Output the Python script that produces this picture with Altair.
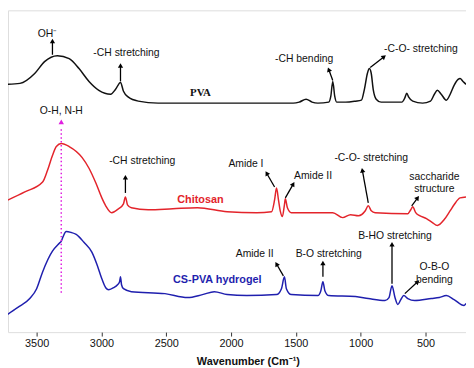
import math
import altair as alt
import pandas as pd

# ---- spectra (wavenumber, offset intensity) ----
pva_wn = [3736, 3629, 3515, 3439, 3340, 3249, 3173, 3096, 3020, 2929, 2891, 2853, 2830, 2792, 2716, 2563,
          2030, 1520, 1474, 1421, 1375, 1330, 1246, 1230, 1215, 1200, 1185, 1116, 1040, 994, 971, 948, 933,
          918, 903, 880, 842, 735, 682, 660, 644, 629, 598, 522, 461, 431, 408, 378, 339, 309, 279, 248, 233, 210, 187]
pva_v = [251, 252, 262, 274, 280, 277, 267, 254, 245, 241, 246, 253, 244, 238, 234, 232,
         232, 232, 233, 236, 233, 232, 233, 239, 254, 239, 233, 233, 234, 235, 246, 262, 267,
         262, 246, 236, 233, 233, 233, 237, 242, 238, 234, 232, 234, 241, 245, 241, 235, 241, 250, 256, 257, 254, 251]

chi_wn = [3736, 3591, 3454, 3416, 3378, 3348, 3310, 3249, 3150, 3096, 3043, 2997, 2967, 2921, 2868, 2830, 2815,
          2799, 2769, 2639, 2449, 2259, 2030, 1802, 1687, 1664, 1649, 1634, 1619, 1604, 1588, 1581, 1565, 1535,
          1215, 1139, 1078, 1017, 964, 941, 918, 888, 636, 613, 598, 575, 545, 492, 446, 408, 355, 309, 279, 233, 187]
chi_v = [133, 142, 152, 164, 179, 188, 191, 188, 177, 166, 151, 136, 128, 121, 125, 130, 137,
         129, 126, 124, 125, 126, 122, 121, 122, 134, 146, 134, 122, 117, 129, 135, 126, 121,
         121, 116, 119, 118, 123, 128, 123, 121, 120, 124, 127, 121, 118, 115, 111, 108, 114, 123, 129, 136, 137]

gel_wn = [3736, 3645, 3553, 3500, 3454, 3378, 3325, 3310, 3295, 3272, 3234, 3195, 3135, 3074, 3036, 2997, 2967,
          2944, 2906, 2876, 2860, 2853, 2845, 2830, 2769, 2510, 2335, 2221, 2129, 2030, 1878, 1649, 1611, 1588,
          1573, 1535, 1330, 1307, 1291, 1276, 1246, 1040, 941, 812, 781, 758, 735, 713, 690, 667, 636, 583, 454,
          393, 339, 279, 202, 187]
gel_v = [17, 25, 34, 44, 61, 82, 90, 92, 97, 102, 101, 99, 91, 81, 69, 54, 45,
         43, 45, 48, 51, 56, 48, 44, 41, 39, 35, 38, 41, 38, 37, 38, 44, 56,
         44, 38, 37, 42, 51, 42, 37, 36, 34, 32, 35, 47, 35, 28, 33, 37, 34, 32, 34,
         35, 37, 33, 27, 29]

series_names = ["PVA", "Chitosan", "CS-PVA hydrogel"]
series_colors = ["#111111", "#e3242b", "#1f1fae"]

# ---- annotations ----
note_text = ["OH⁻", "-CH stretching", "-CH bending", "O-H, N-H", "-CH stretching", "Amide I", "Amide II",
             "-C-O- stretching", "saccharide", "structure", "Amide II", "B-O stretching", "B-HO stretching",
             "O-B-O", "bending"]
note_wn = [3416, 2807, 1436, 3310, 2685, 1885, 1367, 918, 431, 431, 1817, 1246, 735, 431, 431]
note_v = [302, 283, 277, 224, 173, 170, 158, 176, 157, 145, 79, 79, 97, 66, 53]

co_text = ["-C-O- stretching"]
co_wn = [819]
co_v = [287]

label_text = ["PVA", "Chitosan", "CS-PVA hydrogel"]
label_wn = [2236, 2236, 2106]
label_v = [242, 134, 53]

# arrows: tail (wn, v) -> head (wn, v)
arr_wn1 = [3378, 2853, 1215, 926, 2815, 1664, 1581, 941, 606, 1596, 1291, 758, 659]
arr_v1 = [281, 254, 255, 268, 141, 147, 136, 131, 128, 57, 56, 49, 39]
arr_wn2 = [3378, 2853, 1246, 819, 2815, 1725, 1520, 987, 560, 1649, 1291, 758, 560]
arr_v2 = [295, 270, 266, 279, 157, 161, 150, 164, 136, 69, 70, 89, 51]

# magenta guide
mag_wn = [3310]
mag_v1 = [40]
mag_v2 = [208]
mag_head = [213]

XDOM = [3721, 187]
W, H = 464, 326
YDOM = [0, 326]

rows = []
for name, wn, v in [("PVA", pva_wn, pva_v), ("Chitosan", chi_wn, chi_v), ("CS-PVA hydrogel", gel_wn, gel_v)]:
    for i, (a, b) in enumerate(zip(wn, v)):
        rows.append({"series": name, "wn": a, "v": b, "o": i})
spec = pd.DataFrame(rows)

px_per_wn = W / (XDOM[0] - XDOM[1])
arr = pd.DataFrame({"wn1": arr_wn1, "v1": arr_v1, "wn2": arr_wn2, "v2": arr_v2})
arr["angle"] = [
    (math.degrees(math.atan2(-(b2 - b1) * px_per_wn, (c2 - c1))) + 360) % 360
    for b1, b2, c1, c2 in zip(arr.wn1, arr.wn2, arr.v1, arr.v2)
]

xs = alt.Scale(domain=XDOM, nice=False, zero=False)
ys = alt.Scale(domain=YDOM, nice=False, zero=False)
FONT = "Liberation Sans"

x_axis = alt.Axis(values=[3500, 3000, 2500, 2000, 1500, 1000, 500], format="d", grid=False, domain=False,
                  tickSize=4, tickColor="#333", labelFont=FONT, labelFontSize=11, labelColor="#111",
                  labelPadding=2, title="Wavenumber (Cm⁻¹)", titleFont=FONT, titleFontSize=11,
                  titleFontWeight="bold", titleColor="#111", titlePadding=7, titleX=243)

lines = alt.Chart(spec).mark_line(strokeWidth=1.5, interpolate="monotone", clip=True).encode(
    x=alt.X("wn:Q", scale=xs, axis=x_axis),
    y=alt.Y("v:Q", scale=ys, axis=None),
    color=alt.Color("series:N", scale=alt.Scale(domain=series_names, range=series_colors), legend=None),
    order="o:Q",
)

mag_df = pd.DataFrame({"wn": mag_wn, "v1": mag_v1, "v2": mag_v2, "h": mag_head})
mag_line = alt.Chart(mag_df).mark_rule(color="#e01fe0", strokeWidth=1.5, strokeDash=[1.5, 2.5]).encode(
    x=alt.X("wn:Q", scale=xs), y=alt.Y("v1:Q", scale=ys), y2="v2:Q")
mag_head_m = alt.Chart(mag_df).mark_point(shape="triangle-up", filled=True, size=30, color="#e01fe0", opacity=1).encode(
    x=alt.X("wn:Q", scale=xs), y=alt.Y("h:Q", scale=ys))

arr_line = alt.Chart(arr).mark_rule(color="#000", strokeWidth=1.3).encode(
    x=alt.X("wn1:Q", scale=xs), x2="wn2:Q", y=alt.Y("v1:Q", scale=ys), y2="v2:Q")
arr_head = alt.Chart(arr).mark_point(shape="triangle-up", filled=True, size=28, color="#000", opacity=1).encode(
    x=alt.X("wn2:Q", scale=xs), y=alt.Y("v2:Q", scale=ys), angle=alt.Angle("angle:Q", scale=None))

notes = alt.Chart(pd.DataFrame({"t": note_text, "wn": note_wn, "v": note_v})).mark_text(
    font=FONT, fontSize=10.5, color="#111", align="center", baseline="middle").encode(
    x=alt.X("wn:Q", scale=xs), y=alt.Y("v:Q", scale=ys), text="t:N")

co_note = alt.Chart(pd.DataFrame({"t": co_text, "wn": co_wn, "v": co_v})).mark_text(
    font=FONT, fontSize=10.5, color="#111", align="left", baseline="middle").encode(
    x=alt.X("wn:Q", scale=xs), y=alt.Y("v:Q", scale=ys), text="t:N")

lab_df = pd.DataFrame({"t": label_text, "wn": label_wn, "v": label_v, "series": series_names})
lab_pva = alt.Chart(lab_df.iloc[[0]]).mark_text(
    font="Liberation Serif", fontSize=11, fontWeight="bold", color="#111", baseline="middle").encode(
    x=alt.X("wn:Q", scale=xs), y=alt.Y("v:Q", scale=ys), text="t:N")
lab_other = alt.Chart(lab_df.iloc[[1, 2]]).mark_text(
    font=FONT, fontSize=11, fontWeight="bold", baseline="middle").encode(
    x=alt.X("wn:Q", scale=xs), y=alt.Y("v:Q", scale=ys), text="t:N",
    color=alt.Color("series:N", scale=alt.Scale(domain=series_names, range=series_colors), legend=None))

chart = alt.layer(lines, mag_line, mag_head_m, arr_line, arr_head, notes, co_note, lab_pva, lab_other).properties(
    width=W, height=H, padding=0
).configure_view(stroke="#3a3a3a", strokeWidth=2).configure(background="white")

chart.save("out.html", embed_options={"renderer": "svg", "actions": False})
